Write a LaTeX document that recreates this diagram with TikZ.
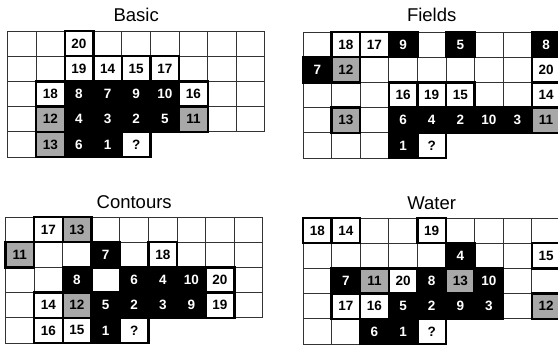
\documentclass[tikz,border=0pt]{standalone}
\usepackage{fontspec}
\setmainfont{Liberation Sans}
\definecolor{shade}{gray}{0.66}

% thin grid: four rows of nine, one row of five
\newcommand{\cellgrid}{%
  \foreach \r in {1,...,4}
    \foreach \c in {1,...,9}
      \draw[gridline] ({(\c-1)*28.6},{(\r-1)*25.2}) rectangle +(28.6,25.2);
  \foreach \c in {1,...,5}
    \draw[gridline] ({(\c-1)*28.6},100.8) rectangle +(28.6,25.2);
}

\begin{document}
\begin{tikzpicture}[x=1pt, y=-1pt,
  gridline/.style = {draw=black!80, line width=0.9pt},
  cell/.style = {rectangle, minimum width=28.6pt, minimum height=25.2pt, inner sep=0pt, font=\bfseries\fontsize{13.5}{13.5}\selectfont},
  cellk/.style = {cell, draw=black, fill=black, line width=2.4pt, text=white},
  cellw/.style = {cell, draw=black, fill=white, line width=2.4pt},
  cellg/.style = {cell, draw=black, fill=shade, line width=2.4pt},
  title/.style = {font=\fontsize{18.5}{18.5}\selectfont}]
  \useasboundingbox (0,0) rectangle (558,346);
  \clip (0,0) rectangle (558,346);

  % Basic
  \begin{scope}[shift={(7.5,31)}]
    \node[title] (basic) at (128.7,-16) {Basic};
    \cellgrid
    \foreach \c/\r/\t/\v in {3/3/k/8, 4/3/k/7, 5/3/k/9, 6/3/k/10, 3/4/k/4, 4/4/k/3, 5/4/k/2, 6/4/k/5, 3/5/k/6, 4/5/k/1,
        3/1/w/20, 3/2/w/19, 4/2/w/14, 5/2/w/15, 6/2/w/17, 2/3/w/18, 7/3/w/16, 5/5/w/?,
        2/4/g/12, 7/4/g/11, 2/5/g/13}
      \node[cell\t] (b\c\r) at ({(\c-0.5)*28.6},{(\r-0.5)*25.2}) {\v};
  \end{scope}

  % Fields
  \begin{scope}[shift={(303,32)}]
    \node[title] (fields) at (128.7,-17) {Fields};
    \cellgrid
    \foreach \c/\r/\t/\v in {4/1/k/9, 6/1/k/5, 9/1/k/8, 1/2/k/7, 4/4/k/6, 5/4/k/4, 6/4/k/2, 7/4/k/10, 8/4/k/3, 4/5/k/1,
        2/1/w/18, 3/1/w/17, 9/2/w/20, 4/3/w/16, 5/3/w/19, 6/3/w/15, 9/3/w/14, 5/5/w/?,
        2/2/g/12, 2/4/g/13, 9/4/g/11}
      \node[cell\t] (f\c\r) at ({(\c-0.5)*28.6},{(\r-0.5)*25.2}) {\v};
  \end{scope}

  % Contours
  \begin{scope}[shift={(5.5,217)}]
    \node[title] (contours) at (128.7,-15) {Contours};
    \cellgrid
    \foreach \c/\r/\t/\v in {4/2/k/7, 3/3/k/8, 5/3/k/6, 6/3/k/4, 7/3/k/10, 4/4/k/5, 5/4/k/2, 6/4/k/3, 7/4/k/9, 4/5/k/1,
        2/1/w/17, 6/2/w/18, 8/3/w/20, 2/4/w/14, 8/4/w/19, 2/5/w/16, 3/5/w/15, 5/5/w/?,
        3/1/g/13, 1/2/g/11, 3/4/g/12}
      \node[cell\t] (c\c\r) at ({(\c-0.5)*28.6},{(\r-0.5)*25.2}) {\v};
  \end{scope}

  % Water
  \begin{scope}[shift={(303,218)}]
    \node[title] (water) at (128.7,-15) {Water};
    \cellgrid
    \foreach \c/\r/\t/\v in {6/2/k/4, 2/3/k/7, 5/3/k/8, 7/3/k/10, 4/4/k/5, 5/4/k/2, 6/4/k/9, 7/4/k/3, 3/5/k/6, 4/5/k/1,
        1/1/w/18, 2/1/w/14, 5/1/w/19, 9/2/w/15, 4/3/w/20, 2/4/w/17, 3/4/w/16, 5/5/w/?,
        3/3/g/11, 6/3/g/13, 9/4/g/12}
      \node[cell\t] (w\c\r) at ({(\c-0.5)*28.6},{(\r-0.5)*25.2}) {\v};
  \end{scope}
\end{tikzpicture}
\end{document}
